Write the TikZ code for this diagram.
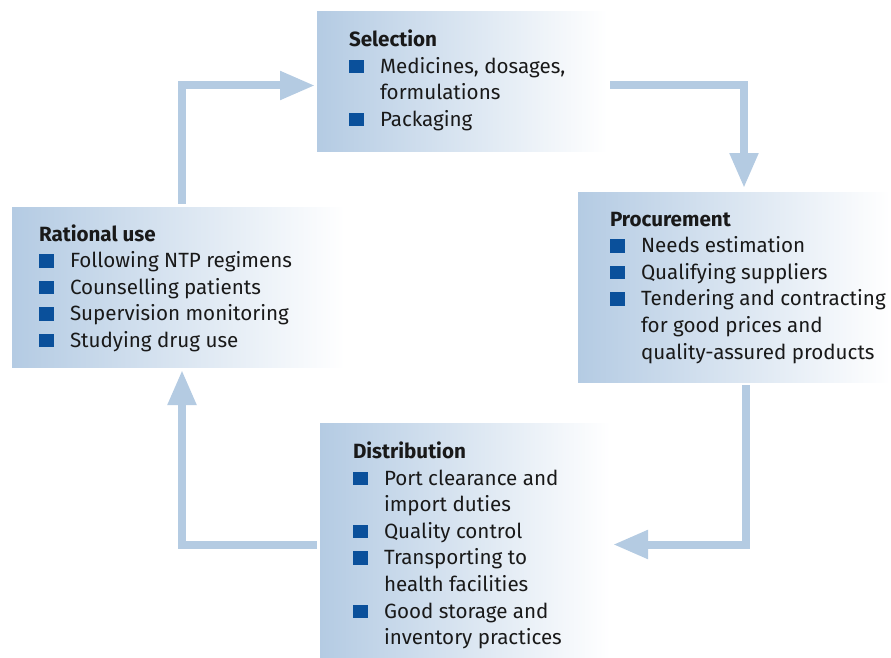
\documentclass[tikz,border=0pt]{standalone}
\usepackage{fontspec}
\setmainfont{Fira Sans}
\usetikzlibrary{arrows.meta}
\definecolor{boxblue}{RGB}{180,203,227}
\definecolor{flowblue}{RGB}{180,203,226}
\definecolor{bulblue}{RGB}{10,80,155}
\definecolor{txtcol}{RGB}{25,25,25}
\newcommand{\bul}{\makebox[31pt][l]{\textcolor{bulblue}{\rule{15pt}{13.5pt}}}}
\newcommand{\cont}{\hspace*{31pt}}
\begin{document}
\begin{tikzpicture}[x=1pt,y=-1pt,
  box/.style={rectangle, inner sep=0pt, outer sep=0pt, anchor=north west,
    left color=boxblue, right color=white, draw=none},
  txt/.style={anchor=base west, inner sep=0pt, outer sep=0pt, text=txtcol,
    font=\fontsize{20.6}{26.6}\selectfont},
  flow/.style={draw=flowblue, line width=8pt, line join=miter,
    -{Triangle[length=35pt,width=27pt]}}]
\useasboundingbox (0,0) rectangle (891,658);

% boxes
\node[box, minimum width=290pt, minimum height=139pt] (sel) at (317,12) {};
\node[box, minimum width=312pt, minimum height=190pt] (proc) at (578,192) {};
\node[box, minimum width=333pt, minimum height=160pt] (rat) at (12,207) {};
\node[box, minimum width=290pt, minimum height=235pt] (dist) at (320,423) {};

% texts
\node[txt] (seltxt) at (349,46.5) {\begin{tabular}[t]{@{}l@{}}\textbf{Selection}\\
  \bul Medicines, dosages,\\
  \cont formulations\\
  \bul Packaging\end{tabular}};

\node[txt] (proctxt) at (610,226) {\begin{tabular}[t]{@{}l@{}}\textbf{Procurement}\\
  \bul Needs estimation\\
  \bul Qualifying suppliers\\
  \bul Tendering and contracting\\
  \cont for good prices and\\
  \cont quality-assured products\end{tabular}};

\node[txt] (rattxt) at (39,241) {\begin{tabular}[t]{@{}l@{}}\textbf{Rational use}\\
  \bul Following NTP regimens\\
  \bul Counselling patients\\
  \bul Supervision monitoring\\
  \bul Studying drug use\end{tabular}};

\node[txt] (disttxt) at (353,458.5) {\begin{tabular}[t]{@{}l@{}}\textbf{Distribution}\\
  \bul Port clearance and\\
  \cont import duties\\
  \bul Quality control\\
  \bul Transporting to\\
  \cont health facilities\\
  \bul Good storage and\\
  \cont inventory practices\end{tabular}};

% connectors
\draw[flow] ([shift={(3,4)}]sel.east) -| ([shift={(10,-4)}]proc.north);
\draw[flow] ([shift={(11.5,3)}]proc.south) |- ([shift={(3,4)}]dist.east);
\draw[flow] ([shift={(-3,4)}]dist.west) -| ([shift={(3.5,3)}]rat.south);
\draw[flow] ([shift={(3.5,-3)}]rat.north) |- ([shift={(-2,4)}]sel.west);
\end{tikzpicture}
\end{document}
